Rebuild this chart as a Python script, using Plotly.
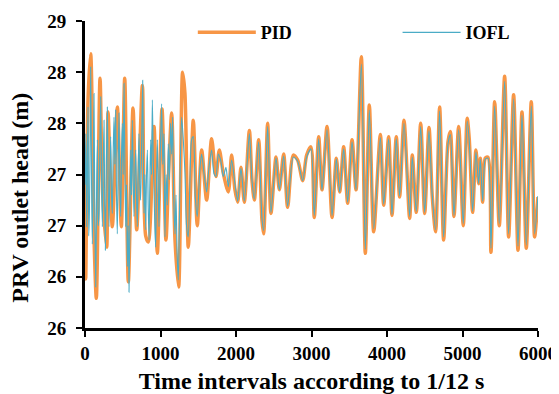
import plotly.graph_objects as go

# ---- data ----
pid_x = [0, 9, 40, 75, 119, 150, 199, 234, 287, 305,
         362, 428, 481, 526, 574, 636, 685, 760, 804, 839,
         914, 958, 1020, 1072, 1112, 1148, 1192, 1240, 1293, 1324,
         1368, 1434, 1487, 1545, 1611, 1677, 1735, 1779, 1832, 1898,
         1942, 1986, 2022, 2066, 2110, 2177, 2212, 2243, 2300, 2344,
         2366, 2419, 2463, 2530, 2574, 2631, 2684, 2759, 2817, 2883,
         2936, 2993, 3037, 3095, 3139, 3206, 3272, 3329, 3373, 3426,
         3479, 3537, 3590, 3660, 3713, 3766, 3824, 3912, 3956, 4022,
         4066, 4123, 4167, 4225, 4300, 4335, 4388, 4446, 4499, 4556,
         4600, 4644, 4697, 4750, 4808, 4839, 4887, 4949, 5010, 5062,
         5090, 5134, 5178, 5214, 5236, 5267, 5302, 5337, 5377, 5426,
         5487, 5558, 5611, 5677, 5735, 5788, 5845, 5911, 5955, 5999]
pid_y = [27.4, 26.48, 28.23, 28.68, 26.9, 26.29, 28.44, 27.3, 26.79, 28.11,
         26.99, 28.16, 26.99, 28.44, 26.45, 28.15, 26.96, 28.37, 26.9, 26.84,
         27.97, 26.73, 28.14, 26.86, 27.6, 28.1, 26.86, 26.4, 28.5, 28.29,
         26.79, 28.03, 27.0, 27.74, 27.25, 27.85, 27.48, 27.74, 27.51, 27.33,
         27.69, 27.35, 27.23, 27.57, 27.23, 27.93, 27.44, 27.25, 27.84, 27.05,
         26.92, 28.0, 27.12, 27.67, 27.35, 27.70, 27.18, 27.69, 27.64, 27.44,
         27.69, 27.77, 27.08, 27.87, 27.35, 27.97, 27.08, 27.66, 27.33, 27.77,
         27.22, 27.84, 27.35, 28.65, 26.73, 28.18, 26.94, 27.89, 27.2, 27.87,
         27.10, 27.87, 27.28, 28.03, 27.07, 27.69, 27.13, 28.0, 27.12, 27.96,
         27.28, 26.94, 28.16, 26.86, 27.82, 27.92, 27.09, 27.97, 27.0, 28.05,
         27.84, 27.13, 27.74, 27.41, 27.66, 27.23, 27.66, 27.67, 26.74, 28.21,
         27.0, 28.46, 26.89, 28.28, 26.76, 28.11, 26.78, 28.21, 26.89, 27.28]

iofl_x = [0, 11, 22, 31, 40, 49, 58, 66, 75, 86,
          97, 108, 119, 130, 142, 153, 164, 175, 186, 197,
          208, 219, 230, 241, 252, 261, 270, 283, 296, 307,
          318, 329, 340, 351, 362, 373, 384, 395, 406, 417,
          428, 439, 450, 461, 473, 484, 495, 506, 517, 528,
          539, 550, 561, 572, 583, 594, 605, 616, 627, 638,
          649, 660, 671, 682, 693, 704, 715, 726, 737, 750,
          764, 773, 782, 793, 804, 815, 826, 837, 848, 859,
          870, 881, 892, 903, 914, 925, 936, 947, 958, 969,
          980, 997, 1015, 1030, 1045, 1059, 1075, 1090, 1103, 1118,
          1133, 1148, 1160, 1175, 1192, 1205, 1220, 1236, 1258, 1280,
          1302, 1324, 1346, 1368, 1390, 1412, 1434, 1461, 1487, 1523,
          1545, 1576, 1611, 1642, 1677, 1708, 1735, 1766, 1797, 1832,
          1867, 1898, 1942, 1986,
          2022, 2066, 2110, 2177, 2212, 2243, 2300, 2344, 2366, 2419,
          2463, 2530, 2574, 2631, 2684, 2759, 2817, 2883, 2936, 2993,
          3037, 3095, 3139, 3206, 3272, 3329, 3373, 3426, 3479, 3537,
          3590, 3660, 3713, 3766, 3824, 3912, 3956, 4022, 4066, 4123,
          4167, 4225, 4300, 4335, 4388, 4446, 4499, 4556, 4600, 4644,
          4697, 4750, 4808, 4839, 4887, 4949, 5010, 5062, 5090, 5134,
          5178, 5214, 5236, 5267, 5302, 5337, 5377, 5426, 5487, 5558,
          5611, 5677, 5735, 5788, 5845, 5911, 5955, 5999]
iofl_y = [27.4, 27.9, 26.99, 27.6, 28.16, 26.9, 27.12, 27.7, 28.55, 27.5,
          26.82, 27.4, 28.29, 27.1, 26.40, 27.3, 27.84, 27.0, 27.12, 27.8,
          28.26, 27.5, 26.99, 27.6, 28.03, 27.2, 26.76, 27.6, 28.16, 27.4,
          26.99, 27.5, 27.87, 27.3, 27.12, 27.7, 28.06, 27.6, 28.13, 27.3,
          26.92, 27.6, 28.10, 27.4, 27.09, 27.7, 28.0, 27.5, 28.39, 27.6,
          26.99, 27.4, 26.60, 27.0, 26.35, 27.0, 27.74, 27.3, 28.03, 27.5,
          27.09, 27.5, 27.74, 27.3, 26.99, 27.5, 27.90, 27.4, 27.25, 27.8,
          28.42, 27.7, 27.12, 27.5, 26.96, 27.5, 27.74, 27.2, 26.86, 27.4,
          27.84, 27.5, 28.23, 27.7, 27.35, 27.0, 26.79, 27.4, 27.84, 27.4,
          26.99, 27.7, 28.19, 27.6, 27.9, 26.89, 27.5, 27.2, 27.80, 27.45,
          28.0, 27.7, 28.06, 27.28, 26.92, 27.3, 26.73, 26.47, 27.44, 28.06,
          27.84, 27.51, 26.99, 26.89, 27.44, 27.84, 27.87, 27.28, 27.09, 27.57,
          27.70, 27.51, 27.33, 27.57, 27.74, 27.51, 27.48, 27.70, 27.64, 27.48,
          27.57, 27.38, 27.64, 27.41,
          27.24, 27.56, 27.24, 27.9, 27.44, 27.26, 27.82, 27.07, 26.95, 27.97,
          27.13, 27.66, 27.35, 27.68, 27.19, 27.67, 27.63, 27.44, 27.67, 27.75,
          27.1, 27.85, 27.35, 27.94, 27.1, 27.65, 27.33, 27.75, 27.23, 27.82,
          27.35, 28.58, 26.77, 28.13, 26.97, 27.86, 27.21, 27.85, 27.11, 27.85,
          27.29, 28.0, 27.09, 27.67, 27.14, 27.97, 27.13, 27.93, 27.29, 26.96,
          28.12, 26.89, 27.8, 27.89, 27.1, 27.94, 27.02, 28.02, 27.82, 27.14,
          27.72, 27.41, 27.65, 27.24, 27.65, 27.66, 26.78, 28.17, 27.02, 28.41,
          26.92, 28.24, 26.8, 28.08, 26.81, 28.17, 26.92, 27.29]

y_tickvals = [26, 26.5, 27, 27.5, 28, 28.5, 29]
y_ticktext = ["26", "26", "27", "27", "28", "28", "29"]
x_tickvals = [0, 1000, 2000, 3000, 4000, 5000, 6000]

FONT = "Liberation Serif, Times New Roman, serif"

fig = go.Figure()
fig.add_trace(go.Scatter(x=pid_x, y=pid_y, mode="lines", name="PID", legend="legend",
                         line=dict(color="#F79646", width=3.5, shape="spline", smoothing=0.8)))
fig.add_trace(go.Scatter(x=iofl_x, y=iofl_y, mode="lines", name="IOFL", legend="legend2",
                         line=dict(color="#4BACC6", width=1.1, shape="spline", smoothing=0.7)))

legend_font = dict(family=FONT, size=18, color="black", weight="bold")
# page body has an 8px default margin, so the figure is sized to fit the window
fig.update_layout(
    width=551, height=386,
    margin=dict(l=77, r=21, t=13, b=66, autoexpand=False),
    paper_bgcolor="white", plot_bgcolor="white",
    font=dict(family=FONT, size=19, color="black", weight="bold"),
    showlegend=True,
    legend=dict(orientation="h", x=0.238, xanchor="left", y=0.962, yanchor="middle",
                font=legend_font, bgcolor="rgba(0,0,0,0)", itemwidth=58),
    legend2=dict(orientation="h", x=0.69, xanchor="left", y=0.962, yanchor="middle",
                 font=legend_font, bgcolor="rgba(0,0,0,0)", itemwidth=58),
    xaxis=dict(range=[0, 6000], tickvals=x_tickvals, showgrid=False, zeroline=False,
               showline=True, linecolor="black", linewidth=3, automargin=False,
               ticks="outside", ticklen=6, tickwidth=2, tickcolor="black",
               tickfont=dict(family=FONT, size=19, color="black", weight="bold"),
               title=dict(text="Time intervals according to 1/12 s",
                          font=dict(family=FONT, size=24, color="black", weight="bold"),
                          standoff=14)),
    yaxis=dict(range=[26, 29], tickvals=y_tickvals, ticktext=y_ticktext, showgrid=False,
               zeroline=False, showline=True, linecolor="black", linewidth=3,
               automargin=False,
               ticks="outside", ticklen=6, tickwidth=2, tickcolor="black",
               ticklabelstandoff=6,
               tickfont=dict(family=FONT, size=19, color="black", weight="bold")),
    annotations=[dict(text="PRV outlet head (m)", textangle=-90, showarrow=False,
                      xref="paper", yref="paper", x=-0.1435, y=0.4245,
                      xanchor="center", yanchor="middle",
                      font=dict(family=FONT, size=24, color="black", weight="bold"))],
)

fig.write_html("out.html")
